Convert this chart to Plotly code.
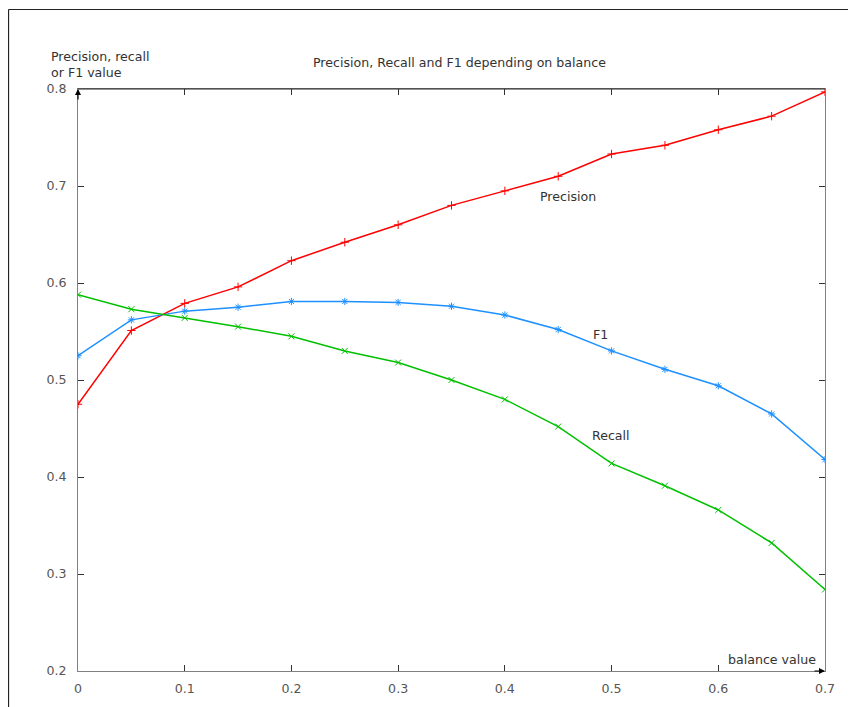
import plotly.graph_objects as go

balance = [0.0, 0.05, 0.1, 0.15, 0.2, 0.25, 0.3, 0.35, 0.4, 0.45, 0.5, 0.55, 0.6, 0.65, 0.7]
precision = [0.475, 0.551, 0.579, 0.596, 0.623, 0.642, 0.660, 0.680, 0.695, 0.710, 0.733, 0.742, 0.758, 0.772, 0.797]
f1 = [0.525, 0.562, 0.571, 0.575, 0.581, 0.581, 0.580, 0.576, 0.567, 0.552, 0.530, 0.511, 0.494, 0.465, 0.418]
recall = [0.588, 0.573, 0.564, 0.555, 0.545, 0.530, 0.518, 0.500, 0.480, 0.452, 0.414, 0.391, 0.366, 0.332, 0.284]
x_ticks = [0, 0.1, 0.2, 0.3, 0.4, 0.5, 0.6, 0.7]
x_labels = ["0", "0.1", "0.2", "0.3", "0.4", "0.5", "0.6", "0.7"]
y_ticks = [0.2, 0.3, 0.4, 0.5, 0.6, 0.7, 0.8]
y_labels = ["0.2", "0.3", "0.4", "0.5", "0.6", "0.7", "0.8"]

FONT = "DejaVu Sans"
FS = 12.6
fig = go.Figure()
series = [
    ("Precision", precision, "#ff0000", "cross-thin"),
    ("F1", f1, "#1e90ff", "asterisk"),
    ("Recall", recall, "#00c000", "x-thin"),
]
for name, vals, col, sym in series:
    fig.add_trace(go.Scatter(
        x=balance, y=vals, mode="lines+markers", name=name,
        line=dict(color=col, width=1.5),
        marker=dict(symbol=sym, size=6, color=col, line=dict(color=col, width=1)),
        showlegend=False,
    ))

axis_common = dict(
    showgrid=False, zeroline=False, showline=True, linecolor="#808080", linewidth=1,
    mirror="allticks", ticks="inside", ticklen=6, tickcolor="#333333", tickwidth=1,
    tickfont=dict(family=FONT, size=FS, color="#555555"),
)
fig.update_xaxes(range=[0, 0.7], tickvals=x_ticks, ticktext=x_labels, ticklabelstandoff=6, **axis_common)
fig.update_yaxes(range=[0.2, 0.8], tickvals=y_ticks, ticktext=y_labels, ticklabelstandoff=8, **axis_common)

txt = dict(family=FONT, size=FS, color="#333333")
annotations = [
    dict(text="Precision, Recall and F1 depending on balance", x=0.5, y=1.0, xref="paper", yref="paper",
         xshift=8, yshift=27, showarrow=False, font=txt, xanchor="center", yanchor="middle"),
    dict(text="Precision, recall<br>or F1 value", x=-0.039, y=1.0, xref="paper", yref="paper", align="left",
         yshift=25, showarrow=False, font=txt, xanchor="left", yanchor="middle"),
    dict(text="balance value", x=0.99, y=0.0, xref="paper", yref="paper",
         yshift=12, showarrow=False, font=txt, xanchor="right", yanchor="middle"),
    dict(text="Precision", x=0.459, y=0.689, showarrow=False, font=txt),
    dict(text="F1", x=0.49, y=0.547, showarrow=False, font=txt),
    dict(text="Recall", x=0.499, y=0.443, showarrow=False, font=txt),
    dict(text="", x=0, y=0.8, ax=0, ay=12, showarrow=True, arrowhead=2, arrowsize=1, arrowwidth=1.2, arrowcolor="#000000"),
    dict(text="", x=0.7, y=0.2, ax=-12, ay=0, showarrow=True, arrowhead=2, arrowsize=1, arrowwidth=1.2, arrowcolor="#000000"),
]

shapes = [
    dict(type="line", xref="paper", yref="paper", x0=0, x1=1, y0=1, y1=1, line=dict(color="#222222", width=1)),
    dict(type="line", xref="paper", yref="paper", x0=-0.093, x1=1.05, y0=1.1366, y1=1.1366, line=dict(color="#222222", width=1.2)),
    dict(type="line", xref="paper", yref="paper", x0=-0.093, x1=-0.093, y0=1.1366, y1=-0.07, line=dict(color="#222222", width=1.2)),
]

fig.update_layout(
    width=848, height=699, margin=dict(l=70, r=31, t=81, b=36),
    paper_bgcolor="white", plot_bgcolor="white",
    annotations=annotations, shapes=shapes,
    font=dict(family=FONT),
)
fig.write_html("out.html")
